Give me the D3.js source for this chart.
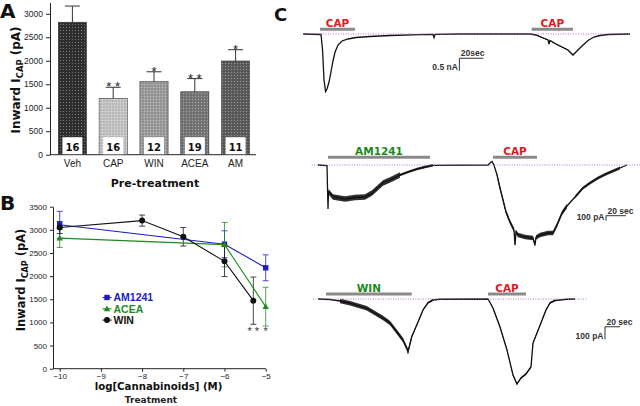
<!DOCTYPE html>
<html><head><meta charset="utf-8">
<script src="https://cdn.jsdelivr.net/npm/d3@7"></script>
<style>body{margin:0;background:#fff}svg{display:block}</style>
</head><body>
<svg id="c" width="640" height="406"></svg>
<script>
// ---------- Panel A data ----------
const groupsA = ["Veh","CAP","WIN","ACEA","AM"];
const meanA   = [2820,1200,1555,1340,1995];
const semA    = [345,235,210,280,240];
const nA      = [16,16,12,19,11];
const starsA  = ["","* *","*","* *","*"];
const colorsA = ["#303030","#c4c4c4","#9c9c9c","#767676","#5c5c5c"];
const ticksA  = [0,500,1000,1500,2000,2500,3000];

// ---------- Panel B data ----------
const doseAM   = [-10,-6,-5];
const meanAM   = [3110,2690,2180];
const semAM    = [290,290,280];
const doseACEA = [-10,-6,-5];
const meanACEA = [2820,2680,1340];
const semACEA  = [200,480,420];
const doseWIN  = [-10,-8,-7,-6,-5.3];
const meanWIN  = [3050,3200,2850,2320,1470];
const semWIN   = [130,120,200,330,510];
const ticksBx  = [-10,-9,-8,-7,-6,-5];
const ticksBy  = [0,500,1000,1500,2000,2500,3000,3500];

// ---------- Panel C data (time s, current pA) ----------
const trace1 = [[0,0],[15,-20],[16.3,-640],[17.5,-1840],[18.8,-2300],[20,-2200],[21.7,-1920],[23.3,-1520],[25,-1080],[26.7,-720],[29.2,-440],[32.5,-280],[37.5,-200],[44.2,-140],[55.8,-100],[72.5,-60],[97.5,-28],[108.3,-12],[109.2,-140],[110,-12],[130.8,0],[189.2,0],[194.2,-40],[199.2,-140],[204.2,-240],[205,-400],[205.8,-260],[210.8,-400],[215.8,-520],[220.8,-640],[225,-840],[227.5,-720],[232.5,-480],[237.5,-260],[242.5,-120],[247.5,-60],[254.2,-20],[272.5,0]];
const trace1Drugs = [["CAP",14.2,43.3],["CAP",190.6,225]];
const trace1Noise = [[194,232,20]];

const trace2 = [[0,0],[9,-10],[10,-880],[10.5,-534],[15,-640],[27,-680],[37,-650],[47,-640],[54,-560],[65,-360],[74,-280],[82,-200],[90,-140],[99,-80],[107,-40],[115,-6],[170,0],[172,40],[174,70],[176,0],[179,-200],[182,-460],[185,-700],[188,-940],[192,-1140],[196,-1300],[197,-1600],[198,-1340],[200,-1400],[207,-1440],[215,-1460],[217,-1600],[218,-1450],[222,-1400],[230,-1360],[235,-1360],[239,-1200],[244,-960],[249,-820],[257,-640],[265,-460],[272,-360],[280,-260],[288,-180],[295,-120],[302,-60],[309,0]];
const trace2Drugs = [["AM1241",10,112],["CAP",175,219]];
const trace2Noise = [[10.5,82,55],[82,115,25],[179,250,45],[250,305,30]];

const trace3 = [[0,0],[16,-4],[29.3,-16],[42.7,-34],[65,-74],[86.7,-152],[96,-192],[105,-262],[113.3,-328],[119,-402],[120,-424],[125,-302],[131.7,-208],[140,-88],[146.7,-30],[153.3,-8],[162.7,-2],[226.7,0],[233.3,-72],[242.7,-224],[252,-408],[260,-608],[265.3,-680],[270.7,-632],[277.3,-600],[284,-544],[286.7,-352],[292,-272],[297.3,-192],[304,-88],[309.3,-32],[316,-12],[332,-2],[342.7,0]];
const trace3Drugs = [["WIN",10.7,125],["CAP",226.7,277.3]];
const trace3Noise = [[29.3,125,18],[125,153.3,8],[233.3,316,8]];

const svg = d3.select("#c");
const SANS = "'Liberation Sans', Arial, sans-serif";
const BOLD = "'DejaVu Sans', Verdana, sans-serif";

// halftone texture for bars
const defs = svg.append("defs");
const pat = defs.append("pattern").attr("id","tex").attr("width",3).attr("height",3).attr("patternUnits","userSpaceOnUse");
pat.append("rect").attr("x",0).attr("y",0).attr("width",1).attr("height",1).attr("fill","#fff").attr("opacity",0.35);
pat.append("rect").attr("x",1.5).attr("y",1.5).attr("width",1).attr("height",1).attr("fill","#000").attr("opacity",0.25);

function panelLetter(t,x,y,s){
  svg.append("text").attr("x",x).attr("y",y).text(t)
    .attr("font-family",BOLD).attr("font-weight","bold").attr("font-size",s).attr("fill","#111");
}
function styleAxis(g,fs){
  g.selectAll("path,line").attr("stroke","#222").attr("stroke-width",1);
  g.selectAll("text").attr("font-family",SANS).attr("font-size",fs).attr("fill","#222");
}
function yLabel(x,y,fs){
  const t = svg.append("text").attr("transform",`translate(${x},${y}) rotate(-90)`)
    .attr("text-anchor","middle").attr("font-family",BOLD).attr("font-weight","bold")
    .attr("font-size",fs).attr("fill","#111");
  t.append("tspan").text("Inward I");
  t.append("tspan").text("CAP").attr("font-size",fs*0.7).attr("dy",fs*0.25);
  t.append("tspan").text(" (pA)").attr("dy",-fs*0.25);
}

// ================= Panel A =================
panelLetter("A",0,18,20);
const xA = d3.scaleBand().domain(groupsA).range([52,256]).paddingInner(0.31).paddingOuter(0.155);
const yA = d3.scaleLinear().domain([0,3240]).range([154.7,2.5]);
const gA = svg.append("g");
const axA = gA.append("g").attr("transform","translate(50,0)")
  .call(d3.axisLeft(yA).tickValues(ticksA).tickSize(4).tickSizeOuter(0).tickFormat(d3.format("d")));
styleAxis(axA,8.5);
gA.append("line").attr("x1",50).attr("x2",256).attr("y1",yA(0)).attr("y2",yA(0)).attr("stroke","#222");
groupsA.forEach((g,i)=>{
  const x = xA(g), w = xA.bandwidth(), cx = x+w/2;
  gA.append("rect").attr("x",x).attr("y",yA(meanA[i])).attr("width",w)
    .attr("height",yA(0)-yA(meanA[i])).attr("fill",colorsA[i]).attr("stroke","#3a3a3a").attr("stroke-width",0.6);
  gA.append("rect").attr("x",x).attr("y",yA(meanA[i])).attr("width",w)
    .attr("height",yA(0)-yA(meanA[i])).attr("fill","url(#tex)");
  const top = yA(meanA[i]+semA[i]);
  gA.append("line").attr("x1",cx).attr("x2",cx).attr("y1",yA(meanA[i])).attr("y2",top).attr("stroke","#333");
  gA.append("line").attr("x1",cx-7.5).attr("x2",cx+7.5).attr("y1",top).attr("y2",top).attr("stroke","#333");
  gA.append("rect").attr("x",cx-10).attr("y",yA(0)-17.5).attr("width",20).attr("height",17).attr("fill","#fff");
  gA.append("text").attr("x",cx).attr("y",yA(0)-3.5).attr("text-anchor","middle").text(nA[i])
    .attr("font-family",BOLD).attr("font-weight","bold").attr("font-size",10).attr("fill","#111");
  if(starsA[i]) gA.append("text").attr("x",cx).attr("y",top+4).attr("text-anchor","middle").text(starsA[i])
    .attr("font-family",SANS).attr("font-size",13).attr("fill","#222");
  gA.append("text").attr("x",cx).attr("y",167).attr("text-anchor","middle").text(g)
    .attr("font-family",SANS).attr("font-size",10).attr("fill","#222");
});
yLabel(20,80,12);
svg.append("text").attr("x",155).attr("y",186.5).attr("text-anchor","middle").text("Pre-treatment")
  .attr("font-family",BOLD).attr("font-weight","bold").attr("font-size",11).attr("fill","#111");

// ================= Panel B =================
panelLetter("B",0,210,20);
const xB = d3.scaleLinear().domain([-10,-5]).range([59.7,265.7]);
const yB = d3.scaleLinear().domain([0,3500]).range([368.7,206.7]);
const axBy = svg.append("g").attr("transform","translate(53,0)")
  .call(d3.axisLeft(yB).tickValues(ticksBy).tickSize(3).tickSizeOuter(0).tickFormat(d3.format("d")));
styleAxis(axBy,8);
const axBx = svg.append("g").attr("transform",`translate(0,${yB(0)})`)
  .call(d3.axisBottom(xB).tickValues(ticksBx).tickSize(3).tickPadding(2).tickSizeOuter(0).tickFormat(d3.format("d")));
styleAxis(axBx,8);
axBx.select(".domain").attr("d",`M53,0H${xB(-5)}`);

const seriesB = [
  {name:"AM1241",dose:doseAM,mean:meanAM,sem:semAM,color:"#1c1cc4",shape:"sq"},
  {name:"ACEA",dose:doseACEA,mean:meanACEA,sem:semACEA,color:"#1f8a1f",shape:"tri"},
  {name:"WIN",dose:doseWIN,mean:meanWIN,sem:semWIN,color:"#111111",shape:"circ"}
];
function marker(g,shape,x,y,color){
  if(shape==="sq") g.append("rect").attr("x",x-2.7).attr("y",y-2.7).attr("width",5.4).attr("height",5.4).attr("fill",color);
  else if(shape==="tri") g.append("path").attr("d",`M${x},${y-3.3}L${x+3.2},${y+2.4}L${x-3.2},${y+2.4}Z`).attr("fill",color);
  else g.append("circle").attr("cx",x).attr("cy",y).attr("r",3).attr("fill",color);
}
const gB = svg.append("g");
seriesB.forEach(s=>{
  const pts = s.dose.map((d,i)=>[d,s.mean[i],s.sem[i]]);
  pts.forEach(p=>{
    const x=xB(p[0]), y1=yB(p[1]+p[2]), y2=yB(p[1]-p[2]);
    gB.append("line").attr("x1",x).attr("x2",x).attr("y1",y1).attr("y2",y2).attr("stroke",s.color).attr("stroke-width",0.9).attr("opacity",0.85);
    [y1,y2].forEach(yy=>gB.append("line").attr("x1",x-3).attr("x2",x+3).attr("y1",yy).attr("y2",yy).attr("stroke",s.color).attr("stroke-width",0.9).attr("opacity",0.85));
  });
});
seriesB.forEach(s=>{
  const pts = s.dose.map((d,i)=>[d,s.mean[i]]);
  gB.append("path").attr("d",d3.line().x(d=>xB(d[0])).y(d=>yB(d[1]))(pts))
    .attr("fill","none").attr("stroke",s.color).attr("stroke-width",1.1);
  pts.forEach(p=>marker(gB,s.shape,xB(p[0]),yB(p[1]),s.color));
});
// significance stars
gB.append("text").attr("x",xB(-5.3)).attr("y",yB(meanWIN[4]-semWIN[4])+11).attr("text-anchor","middle").text("* *")
  .attr("font-family",SANS).attr("font-size",11).attr("fill","#333");
gB.append("text").attr("x",xB(-5)).attr("y",yB(meanWIN[4]-semWIN[4])+11).attr("text-anchor","middle").text("*")
  .attr("font-family",SANS).attr("font-size",11).attr("fill","#333");
// legend
seriesB.forEach((s,i)=>{
  const y = 297.5 + i*11.3;
  gB.append("line").attr("x1",102.5).attr("x2",111.5).attr("y1",y).attr("y2",y).attr("stroke",s.color).attr("stroke-width",1.1);
  marker(gB,s.shape,107,y,s.color);
  gB.append("text").attr("x",113.5).attr("y",y+3.8).text(s.name)
    .attr("font-family",SANS).attr("font-weight","bold").attr("font-size",10.5).attr("fill",s.color);
});
yLabel(25,280,11.5);
svg.append("text").attr("x",158.5).attr("y",390).attr("text-anchor","middle").text("log[Cannabinoids] (M)")
  .attr("font-family",BOLD).attr("font-weight","bold").attr("font-size",10.2).attr("fill","#111");
svg.append("text").attr("x",151).attr("y",403).attr("text-anchor","middle").text("Treatment")
  .attr("font-family",BOLD).attr("font-weight","bold").attr("font-size",9).attr("fill","#222");

// ================= Panel C =================
panelLetter("C",274,20.5,18);
function drawTrace(cfg){
  const xs = d3.scaleLinear().domain(cfg.xDom).range(cfg.xRange);
  const ys = d3.scaleLinear().domain(cfg.yDom).range(cfg.yRange);
  const g = svg.append("g");
  // noise envelopes
  cfg.noise.forEach(n=>{
    const pts = cfg.data.filter(d=>d[0]>=n[0]&&d[0]<=n[1]);
    g.append("path").attr("d",d3.area().x(d=>xs(d[0])).y0(d=>ys(d[1]-n[2])).y1(d=>ys(d[1]+n[2]))(pts))
      .attr("fill","#1a1a1a").attr("opacity",0.9);
  });
  g.append("path").attr("d",d3.line().x(d=>xs(d[0])).y(d=>ys(d[1]))(cfg.data))
    .attr("fill","none").attr("stroke","#111").attr("stroke-width",1.3);
  // baseline (dotted)
  g.append("line").attr("x1",xs(cfg.base[0])).attr("x2",xs(cfg.base[1])).attr("y1",ys(0)).attr("y2",ys(0))
    .attr("stroke","#b070c8").attr("stroke-width",1).attr("stroke-dasharray","1,1.5");
  // drug application bars
  cfg.drugs.forEach(dr=>{
    const by = ys(0)-cfg.barOff;
    g.append("line").attr("x1",xs(dr[1])).attr("x2",xs(dr[2])).attr("y1",by).attr("y2",by)
      .attr("stroke","#8a8a8a").attr("stroke-width",3);
    g.append("text").attr("x",(xs(dr[1])+xs(dr[2]))/2).attr("y",by-2.5).attr("text-anchor","middle").text(dr[0])
      .attr("font-family",BOLD).attr("font-weight","bold").attr("font-size",10.5)
      .attr("fill",dr[0]==="CAP"?"#e5161e":"#1a8a1a");
  });
  // scale bar
  const sb = cfg.scale, sx = xs(sb[0]), sy = ys(sb[1]);
  g.append("path").attr("d",`M${xs(sb[0]+sb[2])},${sy}H${sx}V${ys(sb[1]-sb[3])}`)
    .attr("fill","none").attr("stroke","#333").attr("stroke-width",1);
  g.append("text").attr("x",sx+1.5).attr("y",sy-2).text(sb[4])
    .attr("font-family",SANS).attr("font-weight","bold").attr("font-size",8.5).attr("fill","#333");
  g.append("text").attr("x",sx-1.5).attr("y",ys(sb[1]-sb[3])-0.5).attr("text-anchor","end").text(sb[5])
    .attr("font-family",SANS).attr("font-weight","bold").attr("font-size",8.5).attr("fill","#333");
}
drawTrace({data:trace1,drugs:trace1Drugs,noise:trace1Noise,xDom:[0,272.5],xRange:[303,630],
  yDom:[0,-2300],yRange:[34,91.5],base:[0,272.5],barOff:4.7,scale:[130.3,-970,20,500,"20sec","0.5 nA"]});
drawTrace({data:trace2,drugs:trace2Drugs,noise:trace2Noise,xDom:[0,309],xRange:[318,627],
  yDom:[0,-1460],yRange:[165,238],base:[-6.3,322],barOff:7.7,scale:[288,-1014,20,100,"20 sec","100 pA"]});
drawTrace({data:trace3,drugs:trace3Drugs,noise:trace3Noise,xDom:[0,342.7],xRange:[318,575],
  yDom:[0,-680],yRange:[299,384],base:[-6.7,358.7],barOff:5,scale:[382.7,-222,20,100,"20 sec","100 pA"]});
</script>
</body></html>
